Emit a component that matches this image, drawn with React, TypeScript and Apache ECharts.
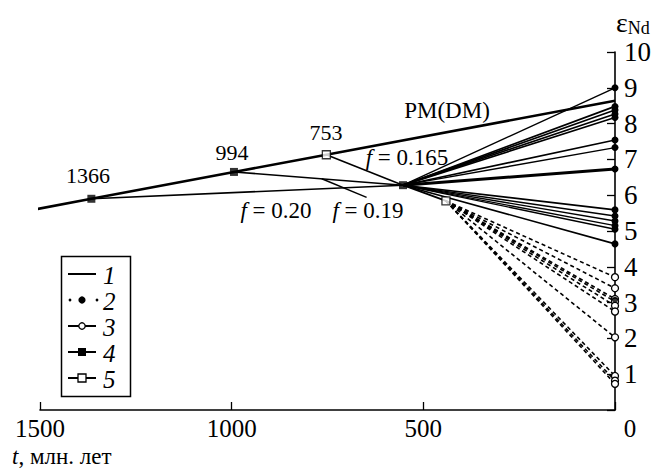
import React, { useEffect, useRef } from 'react';
import * as echarts from 'echarts';

// Depleted mantle (PM(DM)) evolution line
const dmAges = [1510, 1366, 994, 753, 0];
const dmEps = [5.61, 5.9, 6.65, 7.13, 8.64];

// Model points: filled squares (4) and open squares (5)
const filledSqAges = [1366, 994, 553];
const filledSqEps = [5.9, 6.65, 6.28];
const openSqAges = [753, 441];
const openSqEps = [7.13, 5.84];

// Fractionation lines from the DM line to the hub point
const fSourceAges = [1366, 994, 753];
const fSourceEps = [5.9, 6.65, 7.13];
const hubAge = 553;
const hubEps = 6.28;
const branchAge = 441;
const branchEps = 5.84;

// Leader line of the f = 0.19 label
const leaderAges = [765, 648];
const leaderEps = [6.46, 5.94];

// Present-day endpoints (t = 0)
const solidEnds = [9.0, 8.48, 8.38, 8.27, 8.17, 7.54, 7.33, 6.73, 5.59, 5.42, 5.28, 5.15, 5.05, 4.64];
const solidWidths = [1.4, 1.7, 1.7, 1.7, 1.7, 1.6, 1.4, 3, 1.6, 1.4, 1.4, 1.4, 1.4, 1.6];
const dashedEnds = [3.71, 3.4, 3.1, 3.03, 2.91, 2.75, 2.03, 0.95, 0.82, 0.73];
const dashedFilledEnds = [3.08];

const xTicks = [1500, 1000, 500, 0];
const legendLabels = ['1', '2', '3', '4', '5'];

const SERIF = 'Liberation Serif';

export default function App() {
  const ref = useRef<HTMLDivElement>(null);
  useEffect(() => {
    if (!ref.current) return;
    const chart = echarts.init(ref.current, undefined, { renderer: 'svg' });
    const black = '#000';
    const series: any[] = [];

    series.push({
      type: 'line',
      data: dmAges.map((a, i) => [a, dmEps[i]]),
      showSymbol: false,
      symbol: 'none',
      clip: false,
      lineStyle: { color: black, width: 2.6 },
      z: 3,
    });

    fSourceAges.forEach((a, i) => {
      series.push({
        type: 'line',
        data: [[a, fSourceEps[i]], [hubAge, hubEps]],
        symbol: 'none',
        clip: false,
        lineStyle: { color: black, width: 1.6 },
        z: 3,
      });
    });

    series.push({
      type: 'line',
      data: leaderAges.map((a, i) => [a, leaderEps[i]]),
      symbol: 'none',
      clip: false,
      lineStyle: { color: black, width: 1.4 },
      z: 3,
    });

    series.push({
      type: 'line',
      data: [[hubAge, hubEps], [branchAge, branchEps]],
      symbol: 'none',
      clip: false,
      lineStyle: { color: black, width: 1.8 },
      z: 3,
    });

    solidEnds.forEach((e, i) => {
      series.push({
        type: 'line',
        data: [
          { value: [hubAge, hubEps], symbol: 'none' },
          { value: [0, e], symbol: 'circle', symbolSize: 7 },
        ],
        clip: false,
        itemStyle: { color: black },
        lineStyle: { color: black, width: solidWidths[i] },
        z: 4,
      });
    });

    dashedEnds.forEach((e) => {
      series.push({
        type: 'line',
        data: [
          { value: [branchAge, branchEps], symbol: 'none' },
          { value: [0, e], symbol: 'circle', symbolSize: 7 },
        ],
        clip: false,
        itemStyle: { color: '#fff', borderColor: black, borderWidth: 1.3 },
        lineStyle: { color: black, width: 1.6, type: [4, 3] },
        z: 4,
      });
    });

    series.push({
      type: 'scatter',
      data: dashedFilledEnds.map((e) => [0, e]),
      symbol: 'circle',
      symbolSize: 6,
      clip: false,
      itemStyle: { color: black },
      z: 6,
    });

    series.push({
      type: 'scatter',
      data: filledSqAges.map((a, i) => [a, filledSqEps[i]]),
      symbol: 'rect',
      symbolSize: 8,
      clip: false,
      itemStyle: { color: black },
      z: 6,
    });

    series.push({
      type: 'scatter',
      data: openSqAges.map((a, i) => [a, openSqEps[i]]),
      symbol: 'rect',
      symbolSize: 8,
      clip: false,
      itemStyle: { color: '#fff', borderColor: black, borderWidth: 1.3 },
      z: 6,
    });

    const txt = (x: number, y: number, text: string, size: number) => ({
      type: 'text',
      x,
      y,
      z: 10,
      style: {
        text,
        fill: black,
        fontFamily: SERIF,
        fontSize: size,
        align: 'center',
        verticalAlign: 'middle',
      },
    });

    const fText = (x: number, y: number, val: string) => ({
      type: 'text',
      x,
      y,
      z: 10,
      style: {
        text: `{i|f}{n| = ${val}}`,
        fill: black,
        align: 'center',
        verticalAlign: 'middle',
        rich: {
          i: { fontFamily: SERIF, fontSize: 23, fontStyle: 'italic', fill: black },
          n: { fontFamily: SERIF, fontSize: 23, fill: black },
        },
      },
    });

    const legendRows = [274, 300, 326, 352, 378];
    const legendGraphics: any[] = [
      {
        type: 'rect',
        shape: { x: 61.5, y: 256.5, width: 69, height: 140 },
        style: { fill: '#fff', stroke: black, lineWidth: 1.5 },
        z: 8,
      },
    ];
    legendRows.forEach((y, i) => {
      if (i === 1) {
        legendGraphics.push(
          { type: 'circle', shape: { cx: 70, cy: y, r: 1.4 }, style: { fill: black }, z: 9 },
          { type: 'circle', shape: { cx: 82, cy: y, r: 3.6 }, style: { fill: black }, z: 9 },
          { type: 'circle', shape: { cx: 97, cy: y, r: 1.4 }, style: { fill: black }, z: 9 }
        );
      } else {
        legendGraphics.push({
          type: 'line',
          shape: { x1: 68, y1: y, x2: 96, y2: y },
          style: { stroke: black, lineWidth: 2 },
          z: 9,
        });
      }
      if (i === 2) {
        legendGraphics.push({ type: 'circle', shape: { cx: 82, cy: y, r: 3.2 }, style: { fill: '#fff', stroke: black, lineWidth: 1.3 }, z: 9 });
      }
      if (i === 3) {
        legendGraphics.push({ type: 'rect', shape: { x: 78, y: y - 4, width: 8, height: 8 }, style: { fill: black }, z: 9 });
      }
      if (i === 4) {
        legendGraphics.push({ type: 'rect', shape: { x: 78, y: y - 4, width: 8, height: 8 }, style: { fill: '#fff', stroke: black, lineWidth: 1.3 }, z: 9 });
      }
      legendGraphics.push({
        type: 'text',
        x: 103,
        y: y + 1,
        z: 9,
        style: {
          text: legendLabels[i],
          fill: black,
          fontFamily: SERIF,
          fontSize: 25,
          fontStyle: 'italic',
          align: 'left',
          verticalAlign: 'middle',
        },
      });
    });

    chart.setOption({
      animation: false,
      backgroundColor: '#fff',
      grid: { left: 40, right: 50, top: 52, bottom: 64 },
      xAxis: {
        type: 'value',
        inverse: true,
        min: 0,
        max: 1500,
        interval: 500,
        axisLine: { show: true, lineStyle: { color: black, width: 1.6 } },
        axisTick: { show: true, inside: true, length: 8, lineStyle: { color: black, width: 1.3 } },
        splitLine: { show: false },
        axisLabel: {
          color: black,
          fontFamily: SERIF,
          fontSize: 25,
          margin: 6,
          formatter: (v: number) => (xTicks.includes(v) ? (v === 0 ? '{z|0}' : String(v)) : ''),
          rich: { z: { fontFamily: SERIF, fontSize: 25, color: black, padding: [0, 0, 0, 30] } },
        },
      },
      yAxis: {
        type: 'value',
        position: 'right',
        min: 0,
        max: 10,
        interval: 1,
        axisLine: { show: true, lineStyle: { color: black, width: 1.6 } },
        axisTick: { show: true, inside: true, length: 8, lineStyle: { color: black, width: 1.3 } },
        splitLine: { show: false },
        axisLabel: {
          color: black,
          fontFamily: SERIF,
          fontSize: 27,
          margin: 9,
          formatter: (v: number) => (v === 0 ? '' : String(v)),
        },
      },
      series,
      graphic: [
        txt(88, 175, '1366', 22),
        txt(232, 152, '994', 22),
        txt(326, 132, '753', 22),
        txt(447, 110, 'PM(DM)', 23),
        fText(407, 157, '0.165'),
        fText(276, 210, '0.20'),
        fText(368, 210, '0.19'),
        {
          type: 'text',
          x: 616,
          y: 22,
          z: 10,
          style: {
            text: '{e|ε}{s|Nd}',
            fill: black,
            align: 'left',
            verticalAlign: 'middle',
            rich: {
              e: { fontFamily: SERIF, fontSize: 28, fill: black },
              s: { fontFamily: SERIF, fontSize: 18, fill: black, padding: [12, 0, 0, 0] },
            },
          },
        },
        {
          type: 'text',
          x: 12,
          y: 456,
          z: 10,
          style: {
            text: '{i|t}{n|, млн. лет}',
            fill: black,
            align: 'left',
            verticalAlign: 'middle',
            rich: {
              i: { fontFamily: SERIF, fontSize: 23, fontStyle: 'italic', fill: black },
              n: { fontFamily: SERIF, fontSize: 23, fill: black },
            },
          },
        },
        ...legendGraphics,
      ],
    });
    return () => chart.dispose();
  }, []);
  return (
    <div
      ref={ref}
      style={{ position: 'fixed', left: 0, top: 0, width: 665, height: 474, background: '#fff' }}
    />
  );
}
